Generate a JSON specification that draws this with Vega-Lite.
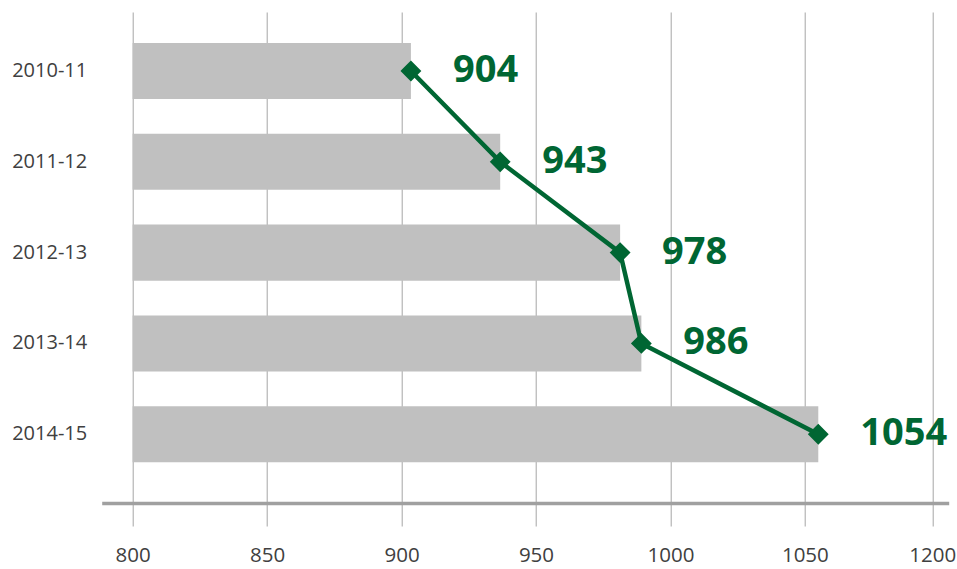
{
  "$schema": "https://vega.github.io/schema/vega-lite/v6.json",
  "autosize": {"type": "none"},
  "width": 847,
  "height": 491,
  "padding": {"left": 101.7, "top": 12, "right": 8.3, "bottom": 66},
  "background": "#ffffff",
  "view": {"stroke": null},
  "config": {"font": "Open Sans"},
  "data": {
    "values": [
      {"year": "2010-11", "plotted": 903.5, "label": 904},
      {"year": "2011-12", "plotted": 936.7, "label": 943},
      {"year": "2012-13", "plotted": 981.3, "label": 978},
      {"year": "2013-14", "plotted": 989.2, "label": 986},
      {"year": "2014-15", "plotted": 1055, "label": 1054}
    ]
  },
  "encoding": {
    "y": {
      "field": "year",
      "type": "nominal",
      "sort": null,
      "scale": {"paddingInner": 0.383, "paddingOuter": 0.395, "align": 0.432},
      "axis": {
        "title": null,
        "domain": false,
        "ticks": false,
        "labelPadding": 15,
        "labelFont": "Open Sans",
        "labelFontSize": 20,
        "labelColor": "#404040"
      }
    }
  },
  "layer": [
    {
      "mark": {"type": "bar", "color": "#c0c0c0"},
      "encoding": {
        "x": {
          "field": "plotted",
          "type": "quantitative",
          "scale": {"domain": [788.5, 1103.5], "zero": false, "nice": false},
          "axis": {
            "title": null,
            "values": [800, 850, 900, 950, 1000, 1050, 1097.4],
            "labelExpr": "datum.value > 1090 ? '1200' : format(datum.value, 'd')",
            "grid": true,
            "gridColor": "#a6a6a6",
            "gridWidth": 1,
            "domain": true,
            "domainColor": "#a0a0a0",
            "domainWidth": 3.5,
            "ticks": true,
            "tickColor": "#a6a6a6",
            "tickWidth": 1,
            "tickSize": 23,
            "labelPadding": 19,
            "labelFont": "Open Sans",
            "labelFontSize": 20.5,
            "labelColor": "#404040"
          }
        },
        "x2": {"datum": 800}
      }
    },
    {
      "mark": {
        "type": "line",
        "color": "#006633",
        "strokeWidth": 4.5,
        "point": {"shape": "diamond", "size": 300, "filled": true, "color": "#006633", "stroke": "#006633", "strokeWidth": 2.5, "opacity": 1}
      },
      "encoding": {
        "x": {"field": "plotted", "type": "quantitative"}
      }
    },
    {
      "mark": {
        "type": "text",
        "align": "left",
        "baseline": "middle",
        "dx": 42,
        "font": "Open Sans",
        "fontSize": 38,
        "fontWeight": "bold",
        "color": "#006633"
      },
      "encoding": {
        "x": {"field": "plotted", "type": "quantitative"},
        "text": {"field": "label", "type": "quantitative", "format": "d"}
      }
    }
  ]
}
